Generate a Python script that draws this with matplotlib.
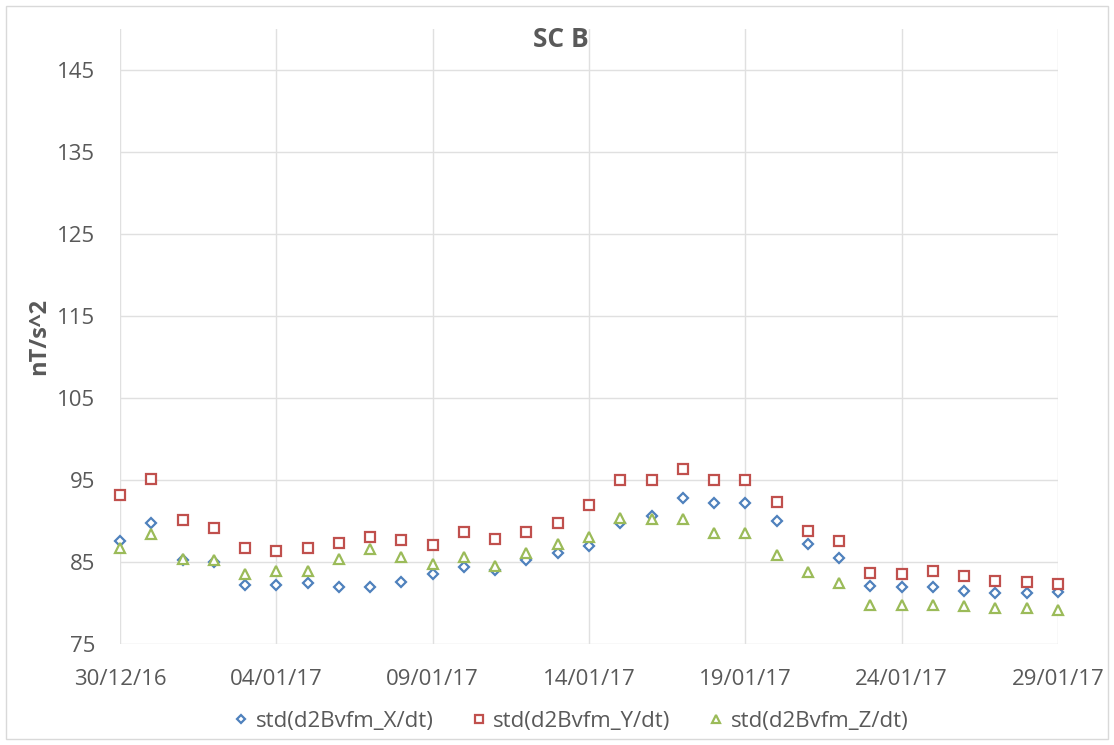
import matplotlib
matplotlib.use("Agg")
import matplotlib.pyplot as plt
import matplotlib.dates as mdates
from matplotlib.patches import Rectangle
import pandas as pd

dates = pd.date_range("2016-12-30", "2017-01-29", freq="D")
std_x = [87.5, 89.8, 85.2, 85.0, 82.2, 82.2, 82.4, 81.9, 82.0, 82.6,
         83.5, 84.4, 84.0, 85.2, 86.1, 87.0, 89.7, 90.6, 92.8, 92.2,
         92.2, 90.0, 87.2, 85.5, 82.1, 81.9, 82.0, 81.5, 81.2, 81.2, 81.3]
std_y = [93.2, 95.1, 90.1, 89.1, 86.7, 86.3, 86.7, 87.3, 88.1, 87.7,
         87.1, 88.7, 87.8, 88.7, 89.7, 91.9, 95.0, 95.0, 96.4, 95.0,
         95.0, 92.3, 88.8, 87.5, 83.7, 83.5, 83.9, 83.3, 82.7, 82.6, 82.3]
std_z = [86.7, 88.4, 85.4, 85.2, 83.5, 83.9, 83.9, 85.4, 86.6, 85.6,
         84.8, 85.6, 84.5, 86.1, 87.2, 88.1, 90.4, 90.2, 90.2, 88.5,
         88.5, 85.8, 83.8, 82.4, 79.8, 79.7, 79.8, 79.6, 79.4, 79.4, 79.1]
labels = ["std(d2Bvfm_X/dt)", "std(d2Bvfm_Y/dt)", "std(d2Bvfm_Z/dt)"]
colors = ["#4F81BD", "#C0504D", "#9BBB59"]
markers = ["D", "s", "^"]
sizes = [5.5, 7.0, 7.0]
yticks = [75, 85, 95, 105, 115, 125, 135, 145]
xtick_dates = pd.date_range("2016-12-30", "2017-01-29", freq="5D")

FONT = ["Open Sans", "DejaVu Sans"]
plt.rcParams["font.family"] = FONT
TXT = "#595959"

W, H = 1114, 745
fig = plt.figure(figsize=(W / 100, H / 100), dpi=100)
L, R, T, B = 120, 1058, 29, 644
ax = fig.add_axes([L / W, 1 - B / H, (R - L) / W, (B - T) / H])

for vals, lab, c, m, s in zip([std_x, std_y, std_z], labels, colors, markers, sizes):
    ax.plot(dates, vals, linestyle="none", marker=m, markersize=s,
            markerfacecolor="white", markeredgecolor=c, markeredgewidth=1.6,
            label=lab, zorder=3, clip_on=False)

ax.set_ylim(75, 150)
ax.set_yticks(yticks)
ax.set_xlim(dates[0], dates[-1])
ax.set_xticks(xtick_dates)
ax.xaxis.set_major_formatter(mdates.DateFormatter("%d/%m/%y"))
ax.grid(True, color="#E0E0E0", linewidth=1.0)
ax.set_axisbelow(True)
for sp in ax.spines.values():
    sp.set_visible(False)
ax.tick_params(axis="both", length=0, labelsize=16, labelcolor=TXT)
ax.tick_params(axis="y", pad=18)
ax.tick_params(axis="x", pad=18)

ax.set_ylabel("nT/s^2", fontsize=17, fontweight="bold", color=TXT)
ax.yaxis.set_label_coords((51 - L) / (R - L), 0.5)

fig.text(561 / W, 1 - 47 / H, "SC B", ha="center", va="baseline",
         fontsize=19, fontweight="bold", color=TXT)

leg = fig.legend(loc="center", bbox_to_anchor=(572 / W, 1 - 721 / H), ncol=3,
                 frameon=False, fontsize=16, labelcolor=TXT, handlelength=0.5,
                 handletextpad=0.4, columnspacing=1.8, markerscale=0.75)

fig.patches.append(Rectangle((6 / W, 6 / H), (1108 - 6) / W, (739 - 6) / H,
                             transform=fig.transFigure, fill=False,
                             edgecolor="#D9D9D9", linewidth=1.0))

fig.savefig("out.png", dpi=100, facecolor="white")
